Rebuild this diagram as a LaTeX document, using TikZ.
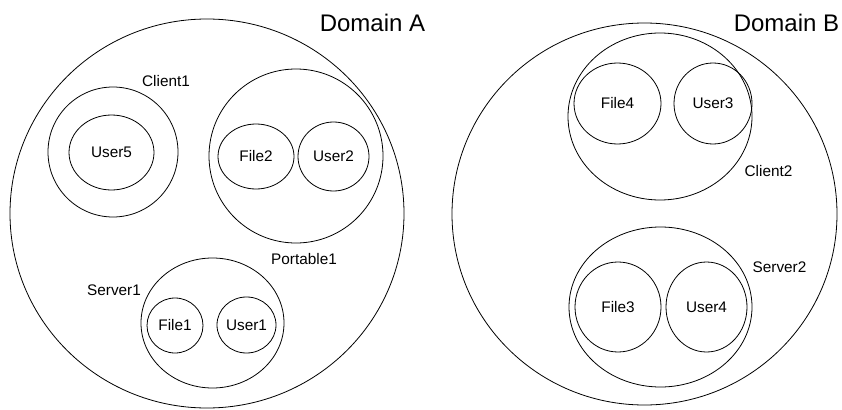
\documentclass[tikz,border=0pt]{standalone}
\usepackage{fontspec}
\setmainfont{Liberation Sans}
\usetikzlibrary{shapes.geometric}

\tikzset{
  blob/.style 2 args={draw, ellipse, inner sep=0pt, line width=0.6pt,
    minimum width=#1*1.5pt, minimum height=#2*1.5pt,
    font=\fontsize{11.5}{13}\selectfont},
  tag/.style={inner sep=0pt, font=\fontsize{11.5}{13}\selectfont},
  domtag/.style={inner sep=0pt, font=\fontsize{18}{21}\selectfont}
}

\begin{document}
\begin{tikzpicture}[x=0.75pt, y=-0.75pt]
  \useasboundingbox (0,0) rectangle (842,410);
  % Domain A
  \node[blob={197}{194.5}] (domA) at (207,213.5) {};
  \node[domtag] (domAtag) at (372.5,23) {Domain A};
  \node[blob={65}{65}] (client1) at (113,152) {};
  \node[tag] (client1tag) at (166,81) {Client1};
  \node[blob={42.5}{37.5}] (user5) at (111.5,152.5) {User5};
  \node[blob={87}{87}] (portable1) at (296,156) {};
  \node[tag] (portable1tag) at (304,259) {Portable1};
  \node[blob={38}{32.5}] (file2) at (256,156.5) {File2};
  \node[blob={35.5}{34.5}] (user2) at (333.5,156.5) {User2};
  \node[blob={71.5}{65}] (server1) at (212.5,323) {};
  \node[tag] (server1tag) at (114,290) {Server1};
  \node[blob={28}{27.5}] (file1) at (175,325.5) {File1};
  \node[blob={29.5}{28}] (user1) at (246.5,325) {User1};
  % Domain B
  \node[blob={192.5}{191}] (domB) at (644.5,214) {};
  \node[domtag] (domBtag) at (786.5,23) {Domain B};
  \node[blob={92}{83.5}] (client2) at (660,116.5) {};
  \node[tag] (client2tag) at (768.5,171) {Client2};
  \node[blob={43.5}{40.5}] (file4) at (617.5,103.5) {File4};
  \node[blob={39}{40.5}] (user3) at (713,103.5) {User3};
  \node[blob={91.5}{80}] (server2) at (660.5,307) {};
  \node[tag] (server2tag) at (779.5,267) {Server2};
  \node[blob={43}{45}] (file3) at (618,307) {File3};
  \node[blob={40.5}{45}] (user4) at (706.5,307) {User4};
\end{tikzpicture}
\end{document}
